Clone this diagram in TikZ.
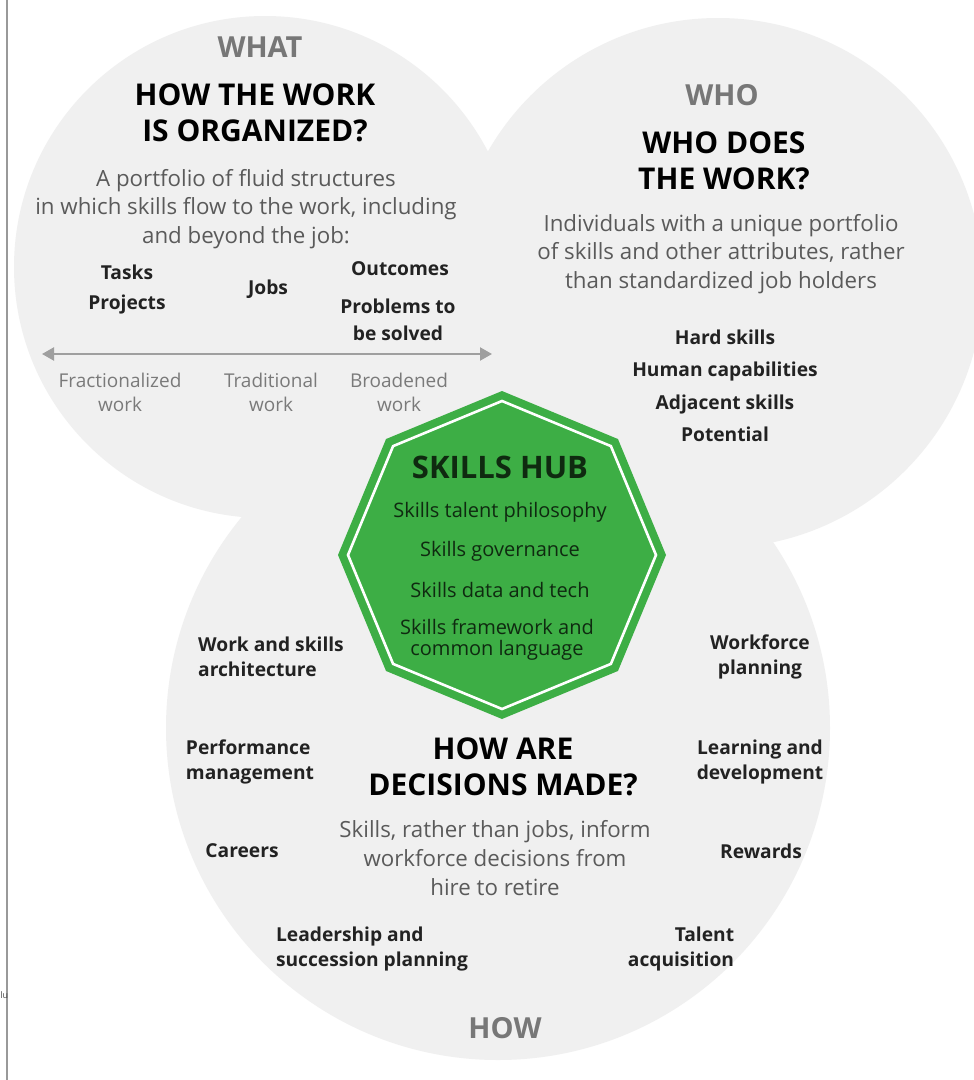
\documentclass[tikz,border=0pt]{standalone}
\usepackage{fontspec}
\setmainfont{Open Sans}
\usetikzlibrary{arrows.meta}
\definecolor{circfill}{HTML}{F0F0F0}
\definecolor{hubgreen}{HTML}{3DAE45}
\definecolor{tagcol}{HTML}{777777}
\definecolor{desccol}{HTML}{5A5A5A}
\definecolor{scalecol}{HTML}{7A7A7A}
\definecolor{itemcol}{HTML}{222222}
\definecolor{hubtext}{HTML}{0F2A10}
\tikzset{
  every node/.style={inner sep=0pt, outer sep=0pt},
  bubble/.style={fill=circfill, draw=none},
  tagtext/.style={font=\bfseries\fontsize{29}{32}\selectfont, text=tagcol},
  titletext/.style={font=\bfseries\fontsize{30}{36.5}\selectfont, text=black, align=center},
  desctext/.style={font=\fontsize{22.3}{28.8}\selectfont, text=desccol, align=center},
  itemtext/.style={font=\bfseries\fontsize{19.2}{25}\selectfont, text=itemcol, align=center},
  scaletext/.style={font=\fontsize{19}{24}\selectfont, text=scalecol, align=center},
  hubtitle/.style={font=\bfseries\fontsize{31}{34}\selectfont, text=hubtext},
  hubitem/.style={font=\fontsize{20}{21}\selectfont, text=hubtext, align=center},
}
\begin{document}
\begin{tikzpicture}[x=1pt,y=-1pt]
\useasboundingbox (0,0) rectangle (974,1080);
\fill[white] (0,0) rectangle (974,1080);
% circles
\fill[bubble] (265,267) circle[radius=251pt];
\fill[bubble] (718,283) circle[radius=265pt];
\fill[bubble] (498,728) circle[radius=332pt];
% left border line
\draw[draw=gray!80, line width=1.8pt] (7,0) -- (7,1080);
\node[anchor=west, font=\fontsize{9}{10}\selectfont, text=black!70] (cut) at (0.3,995) {lu};
% WHAT circle
\node[tagtext] (what) at (260,47) {WHAT};
\node[titletext] (whattitle) at (255,113) {HOW THE WORK\\IS ORGANIZED?};
\node[desctext] (whatdesc) at (246,209) {A portfolio of fluid structures\\in which skills flow to the work, including\\and beyond the job:};
\node[itemtext] (tasks) at (127,272) {Tasks};
\node[itemtext] (projects) at (127,305) {Projects};
\node[itemtext] (jobs) at (268,289) {Jobs};
\node[itemtext] (outcomes) at (400,269) {Outcomes};
\node[itemtext, font=\bfseries\fontsize{19.2}{27}\selectfont] (problems) at (398,320) {Problems to\\be solved};
\coordinate (arrL) at (42,354);
\coordinate (arrR) at (492,354);
\draw[draw=gray!75, line width=2.2pt, {Triangle[length=12pt,width=13pt]}-{Triangle[length=12pt,width=13pt]}] (arrL) -- (arrR);
\node[scaletext] (frac) at (120,392) {Fractionalized\\work};
\node[scaletext] (trad) at (271,392) {Traditional\\work};
\node[scaletext] (broad) at (399,392) {Broadened\\work};
% WHO circle
\node[tagtext] (who) at (722,95) {WHO};
\node[titletext] (whotitle) at (724,161) {WHO DOES\\THE WORK?};
\node[desctext] (whodesc) at (721,254) {Individuals with a unique portfolio\\of skills and other attributes, rather\\than standardized job holders};
\node[itemtext, font=\bfseries\fontsize{19.2}{32.5}\selectfont] (whoitems) at (725,386) {Hard skills\\Human capabilities\\Adjacent skills\\Potential};
% HOW circle
\node[itemtext, align=left] (arch) at (271,657) {Work and skills\\architecture};
\node[itemtext, align=left] (perf) at (250,762) {Performance\\management};
\node[itemtext] (careers) at (242,851) {Careers};
\node[itemtext, align=left] (lead) at (372,949) {Leadership and\\succession planning};
\node[itemtext] (wfp) at (760,657) {Workforce\\planning};
\node[itemtext] (learn) at (760,762) {Learning and\\development};
\node[itemtext] (rewards) at (761,851) {Rewards};
\node[itemtext, align=right] (talent) at (681,949) {Talent\\acquisition};
\node[titletext] (howtitle) at (503,767) {HOW ARE\\DECISIONS MADE?};
\node[desctext] (howdesc) at (495,858) {Skills, rather than jobs, inform\\workforce decisions from\\hire to retire};
\node[tagtext] (how) at (505,1028) {HOW};
% skills hub octagon
\begin{scope}[shift={(502,555)}]
\fill[hubgreen] (90:164pt) -- (135:164pt) -- (180:164pt) -- (225:164pt) -- (270:164pt) -- (315:164pt) -- (0:164pt) -- (45:164pt) -- cycle;
\draw[white, line width=2.6pt, line join=miter] (90:154pt) -- (135:154pt) -- (180:154pt) -- (225:154pt) -- (270:154pt) -- (315:154pt) -- (0:154pt) -- (45:154pt) -- cycle;
\end{scope}
\node[hubtitle] (hub) at (500,467) {SKILLS HUB};
\node[hubitem] (h1) at (500,512) {Skills talent philosophy};
\node[hubitem] (h2) at (500,551) {Skills governance};
\node[hubitem] (h3) at (500,590) {Skills data and tech};
\node[hubitem] (h4) at (497,640) {Skills framework and\\common language};
\end{tikzpicture}
\end{document}
